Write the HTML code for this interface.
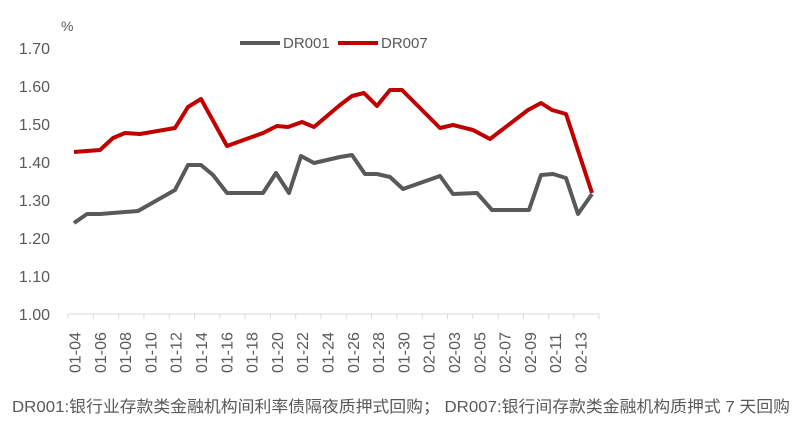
<!DOCTYPE html>
<html><head><meta charset="utf-8"><style>
html,body{margin:0;padding:0;background:#fff;}
svg{display:block;font-family:"Liberation Sans","Noto Sans CJK SC",sans-serif;}
</style></head><body>
<svg width="811" height="426" viewBox="0 0 811 426" xmlns="http://www.w3.org/2000/svg">
<text x="61" y="31" font-size="14" fill="#595959">%</text>
<g font-size="16" fill="#595959" text-anchor="end">
<text x="50" y="320">1.00</text>
<text x="50" y="282">1.10</text>
<text x="50" y="244">1.20</text>
<text x="50" y="206">1.30</text>
<text x="50" y="168">1.40</text>
<text x="50" y="130">1.50</text>
<text x="50" y="92">1.60</text>
<text x="50" y="54">1.70</text>
</g>
<line x1="68" y1="314" x2="599" y2="314" stroke="#d9d9d9" stroke-width="1"/>
<g stroke="#d9d9d9" stroke-width="1">
<path d="M68 314v5M93.3 314v5M118.6 314v5M143.9 314v5M169.2 314v5M194.5 314v5M219.8 314v5M245.1 314v5M270.4 314v5M295.7 314v5M321 314v5M346.3 314v5M371.6 314v5M396.9 314v5M422.2 314v5M447.5 314v5M472.8 314v5M498.1 314v5M523.4 314v5M548.7 314v5M574 314v5M599 314v5"/>
</g>
<g font-size="16" fill="#595959">
<text transform="translate(80.5,373) rotate(-90)">01-04</text>
<text transform="translate(105.8,373) rotate(-90)">01-06</text>
<text transform="translate(131.1,373) rotate(-90)">01-08</text>
<text transform="translate(156.4,373) rotate(-90)">01-10</text>
<text transform="translate(181.7,373) rotate(-90)">01-12</text>
<text transform="translate(207,373) rotate(-90)">01-14</text>
<text transform="translate(232.3,373) rotate(-90)">01-16</text>
<text transform="translate(257.6,373) rotate(-90)">01-18</text>
<text transform="translate(282.9,373) rotate(-90)">01-20</text>
<text transform="translate(308.2,373) rotate(-90)">01-22</text>
<text transform="translate(333.5,373) rotate(-90)">01-24</text>
<text transform="translate(358.8,373) rotate(-90)">01-26</text>
<text transform="translate(384.1,373) rotate(-90)">01-28</text>
<text transform="translate(409.4,373) rotate(-90)">01-30</text>
<text transform="translate(434.7,373) rotate(-90)">02-01</text>
<text transform="translate(460,373) rotate(-90)">02-03</text>
<text transform="translate(485.3,373) rotate(-90)">02-05</text>
<text transform="translate(510.6,373) rotate(-90)">02-07</text>
<text transform="translate(535.9,373) rotate(-90)">02-09</text>
<text transform="translate(561.2,373) rotate(-90)">02-11</text>
<text transform="translate(586.5,373) rotate(-90)">02-13</text>
</g>
<polyline fill="none" stroke="#c00000" stroke-width="4" stroke-linejoin="round" points="74,152 100,150 113,138 125,133 140,134 175,128 188,107 201,99 227,146 263,133 277,126 288,127 302,122 314,127 340,105 352,96 364,93 377,106 390,90 402,90 440,128 453,125 473,130 490,139 528,110 541,103 552,110 566,114 592,193"/>
<polyline fill="none" stroke="#595959" stroke-width="4" stroke-linejoin="round" points="74,223 87,214 100,214 138,211 175,190 188,165 201,165 213,175 227,193 263,193 276,173 289,193 301,156 314,163 340,157 352,155 365,174 377,174 390,177 403,189 440,176 453,194 477,193 492,210 529,210 541,175 553,174 566,178 578,214 592,194"/>
<line x1="240" y1="43" x2="280" y2="43" stroke="#595959" stroke-width="4"/>
<text x="283" y="48" font-size="15" fill="#595959">DR001</text>
<line x1="338" y1="43" x2="378" y2="43" stroke="#c00000" stroke-width="4"/>
<text x="381" y="48" font-size="15" fill="#595959">DR007</text>
<text x="12" y="412" font-size="16" fill="#595959" textLength="778" lengthAdjust="spacingAndGlyphs">DR001:银行业存款类金融机构间利率债隔夜质押式回购； DR007:银行间存款类金融机构质押式 7 天回购</text>
</svg>
</body></html>
